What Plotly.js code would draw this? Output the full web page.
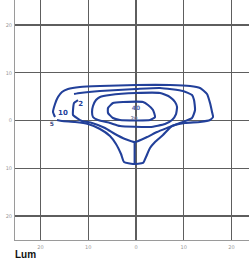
<!DOCTYPE html>
<html><head><meta charset="utf-8">
<script src="https://cdn.plot.ly/plotly-3.0.1.min.js"></script>
<style>html,body{margin:0;padding:0;background:#fff;}#chart{width:249px;height:262px;}</style>
</head><body><div id="chart"></div>
<script>
// Tick values and labels (as printed on the picture)
const tickVals = [-20, -10, 0, 10, 20];
const tickText = ['20', '10', '0', '10', '20'];

// Contour lines (level 5, 10, 20, 40), points in data units
const c5x = [-16.96,-17.38,-16.96,-16.34,-15.50,-14.24,-11.73,-7.54,0,7.12,11.31,13.40,14.87,15.50,15.92,16.13,15.50,13.40,10.26,7.54,5.65,3.98,2.93,2.09,1.47,-0.63,-2.51,-3.14,-4.19,-5.45,-7.54,-10.05,-12.77,-15.50,-16.54];
const c5y = [0.73,1.78,3.46,4.92,5.97,6.60,7.02,7.23,7.43,7.43,7.23,6.81,5.55,3.66,1.78,0.73,0.10,-0.31,-0.52,-1.15,-3.04,-4.50,-5.76,-7.64,-8.90,-9.11,-8.69,-7.02,-4.92,-3.25,-1.78,-0.73,-0.31,-0.10,0.10];

const c10x = [-12.15,-12.98,-13.19,-13.19,-12.36,-11.31,-9.21,-6.49,-4.40,-2.30,-0.21,2.30,4.40,6.49,9.21,11.73,12.36,12.15,11.73,9.84,5.03,0,-7.54,-11.73,-12.98];
const c10y = [4.29,3.66,2.20,1.15,0.52,-0.10,-0.52,-1.57,-2.83,-3.87,-4.50,-3.46,-2.41,-1.57,-0.52,0.52,2.20,4.29,5.34,6.18,6.81,6.60,6.18,5.76,5.55];

const c20x = [-8.38,-9.01,-9.21,-9.01,-7.96,-5.45,-3.35,2.93,6.07,7.54,8.38,8.59,8.17,7.12,5.03,0,-5.45,-7.54,-8.38];
const c20y = [4.29,3.04,1.78,0.73,0.10,-0.52,-1.15,-1.36,-0.73,0.10,1.36,2.83,3.87,4.92,5.76,5.76,5.34,4.92,4.29];

const c40x = [-2.72,-4.82,-5.86,-5.86,-4.82,-3.35,2.93,3.98,3.56,2.51,1.47,-2.72];
const c40y = [3.87,3.66,2.62,1.57,0.52,0.10,0.10,0.73,2.20,3.25,3.87,3.87];

const stemX = [-0.3, -0.3];
const stemY = [-4.3, -9.1];

// Contour labels
const labelText = ['5', '10', '2', '40', '20'];
const labelX = [-17.6, -15.3, -11.6, 0, -0.4];
const labelY = [-0.8, 1.5, 3.4, 2.6, 0.3];

const lineColor = '#22409a';
function line(x, y, w, c) {
  return {type: 'scatter', mode: 'lines', x: x, y: y, hoverinfo: 'skip',
          line: {color: c || lineColor, width: w || 2, shape: 'spline', smoothing: 0.45}};
}
const traces = [
  line(c5x, c5y, 2.1),
  line(c10x, c10y, 2.1),
  line(c20x, c20y, 2.1),
  line(c40x, c40y, 2.1),
  {type: 'scatter', mode: 'lines', x: stemX, y: stemY, hoverinfo: 'skip', line: {color: lineColor, width: 2}},
  {type: 'scatter', mode: 'text', x: labelX, y: labelY, text: labelText, hoverinfo: 'skip',
   textfont: {family: 'DejaVu Sans', size: [6, 7, 7, 6, 5], color: ['#3a4a80', '#22409a', '#22409a', '#5a6ab0', '#7a80a0'], weight: 'bold'}}
];

const axisCommon = {
  tickvals: tickVals, ticktext: tickText, ticks: '', showgrid: true,
  gridcolor: '#5e5e5e', gridwidth: 1.4, zeroline: false,
  showline: true, linecolor: '#9a9a9a', linewidth: 1,
  tickfont: {family: 'DejaVu Sans', size: 5, color: '#999999'}, fixedrange: true
};

const layout = {
  width: 249, height: 262,
  margin: {l: 15, r: 0, t: 0, b: 22, pad: 0},
  paper_bgcolor: '#fff', plot_bgcolor: '#fff', showlegend: false,
  xaxis: Object.assign({}, axisCommon, {range: [-25.34, 23.66], ticklabelstandoff: 2}),
  yaxis: Object.assign({}, axisCommon, {range: [-25.03, 25.24], ticklabelstandoff: 1}),
  annotations: [{
    text: '<b>Lum</b>', xref: 'paper', yref: 'paper', x: -0.005, y: -0.088,
    xanchor: 'left', yanchor: 'bottom', showarrow: false, borderpad: 0,
    font: {family: 'Liberation Sans', size: 10, color: '#111'}
  }]
};
Plotly.newPlot('chart', traces, layout, {displayModeBar: false, staticPlot: true});
</script>
</body></html>
